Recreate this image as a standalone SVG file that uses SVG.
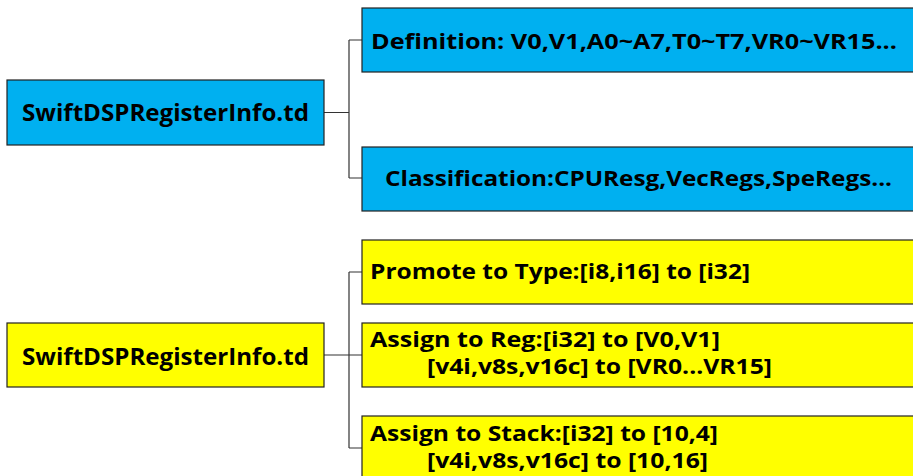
<svg xmlns="http://www.w3.org/2000/svg" width="913" height="476" viewBox="0 0 913 476">
  <style>
    .box { stroke: #222; stroke-width: 1.2; }
    .blue { fill: #00B0F0; }
    .yellow { fill: #FFFF00; }
    .lbl { font-family: "Open Sans", "Noto Sans", sans-serif; font-weight: bold; font-size: 22px; fill: #000; }
    .big { font-size: 24px; }
    .wire { fill: none; stroke: #333; stroke-width: 1.2; }
  </style>
  <rect width="913" height="476" fill="#fff"/>

  <!-- connectors -->
  <g id="connectors">
    <path class="wire" d="M324 112.5 H349 M349 40 V178 M349 40 H362 M349 178 H362"/>
    <path class="wire" d="M324 355 H349 M349 272 V448 M349 272 H362 M349 355 H362 M349 448 H362"/>
  </g>

  <!-- upper tree -->
  <g id="reg-info-top">
    <rect class="box blue" x="7" y="80" width="317" height="65"/>
    <text class="lbl big" x="165.5" y="121" text-anchor="middle" textLength="287" lengthAdjust="spacingAndGlyphs">SwiftDSPRegisterInfo.td</text>
  </g>
  <g id="definition">
    <rect class="box blue" x="362" y="8" width="560" height="64"/>
    <text class="lbl" x="371" y="49" textLength="526" lengthAdjust="spacingAndGlyphs">Definition: V0,V1,A0~A7,T0~T7,VR0~VR15...</text>
  </g>
  <g id="classification">
    <rect class="box blue" x="362" y="147" width="560" height="64"/>
    <text class="lbl" x="385" y="186" textLength="507" lengthAdjust="spacingAndGlyphs">Classification:CPUResg,VecRegs,SpeRegs...</text>
  </g>

  <!-- lower tree -->
  <g id="reg-info-bottom">
    <rect class="box yellow" x="7" y="323" width="317" height="64"/>
    <text class="lbl big" x="165.5" y="365" text-anchor="middle" textLength="287" lengthAdjust="spacingAndGlyphs">SwiftDSPRegisterInfo.td</text>
  </g>
  <g id="promote">
    <rect class="box yellow" x="362" y="240" width="560" height="64"/>
    <text class="lbl" x="370" y="279" textLength="380" lengthAdjust="spacingAndGlyphs">Promote to Type:[i8,i16] to [i32]</text>
  </g>
  <g id="assign-reg">
    <rect class="box yellow" x="362" y="323" width="560" height="64"/>
    <text class="lbl" x="370" y="347" textLength="350" lengthAdjust="spacingAndGlyphs">Assign to Reg:[i32] to [V0,V1]</text>
    <text class="lbl" x="427" y="374" textLength="345" lengthAdjust="spacingAndGlyphs">[v4i,v8s,v16c] to [VR0...VR15]</text>
  </g>
  <g id="assign-stack">
    <rect class="box yellow" x="362" y="416" width="560" height="80"/>
    <text class="lbl" x="370" y="441" textLength="348" lengthAdjust="spacingAndGlyphs">Assign to Stack:[i32] to [10,4]</text>
    <text class="lbl" x="427" y="468" textLength="281" lengthAdjust="spacingAndGlyphs">[v4i,v8s,v16c] to [10,16]</text>
  </g>
</svg>
